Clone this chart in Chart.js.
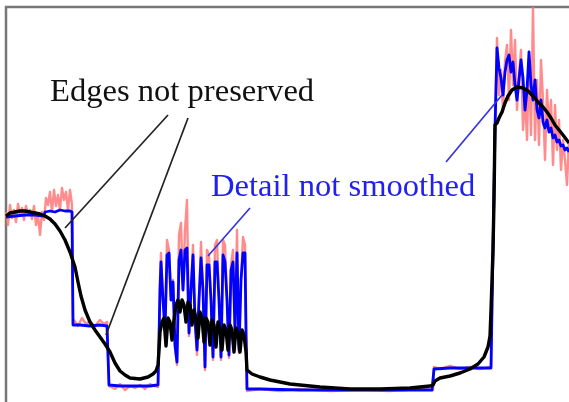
<!DOCTYPE html>
<html lang="en">
<head>
<meta charset="UTF-8" />
<title>Edges vs detail</title>
<script src="https://cdn.jsdelivr.net/npm/chart.js"></script>
<style>
  body { margin: 0; background: #fff; }
  canvas { display: block; }
</style>
</head>
<body>
<canvas id="myChart" width="569" height="402"></canvas>
<script>
// signal traces, [x, y] in picture units (y grows downward)
const noisySignal = [
  [6,212],[8,225],[10,205],[12,218],[14,210],[16,222],[18,204],[20,215],[22,208],[24,220],[26,206],[28,214],
  [30,210],[32,219],[34,206],[36,225],[38,215],[40,235],[42,212],[44,220],[46,198],[48,205],[50,192],[52,212],
  [54,190],[56,206],[58,195],[60,210],[62,188],[64,200],[66,192],[68,210],[70,190],[72,205],
  [73,322],[74,320],[78,326],[82,318],[86,324],[90,321],[95,326],[100,320],[104,324],[107,322],
  [109,386],[115,389],[120,384],[125,390],[130,386],[135,388],[140,385],[145,389],[150,384],[157,387],
  [158,387],[160,280],[161,253],[163,300],[165,335],[167,240],[169,250],[171,300],[173,280],[175,348],[177,365],
  [179,235],[181,223],[183,290],[185,230],[187,200],[189,336],[191,290],[193,245],[195,322],[197,355],[199,300],
  [201,242],[203,290],[205,370],[207,250],[209,255],[211,300],[213,360],[215,245],[217,240],[219,300],[221,360],
  [223,240],[225,245],[227,300],[229,358],[231,265],[233,250],[235,333],[237,230],[239,353],[241,280],[243,237],
  [245,245],[246,330],[247,391],
  [260,389],[280,391],[300,389],[330,391],[360,390],[390,391],[420,389],[433,390],
  [434,367],[440,369],[450,366],[460,369],[470,367],[480,369],[491,367],[493,250],
  [495,120],[497,38],[499,95],[501,70],[503,112],[505,62],[507,45],[509,100],[511,30],[513,85],[515,40],
  [517,110],[519,75],[521,50],[523,130],[525,95],[527,140],[529,60],[531,135],[533,8],[535,140],[537,80],
  [539,145],[541,60],[543,100],[545,160],[547,90],[549,130],[551,100],[553,165],[555,105],[557,150],[559,120],
  [561,170],[563,140],[565,160],[567,185],[569,140]
];

const detailSignal = [
  [6,217],[15,216],[25,215],[35,215],[44,216],[45,212],[50,211],[55,212],[60,210],[65,211],[70,211],[72,212],
  [73,325],[80,325],[90,326],[100,325],[107,326],
  [109,385],[120,386],[130,386],[140,386],[150,386],[157,385],
  [158,385],[160,290],[161,262],[163,300],[165,330],[167,255],[169,253],[171,300],[173,282],[175,345],[177,362],
  [179,260],[181,250],[183,290],[185,250],[187,248],[189,333],[191,290],[193,255],[195,320],[197,350],[199,300],
  [201,258],[203,290],[205,367],[207,265],[209,265],[211,300],[213,357],[215,262],[217,262],[219,300],[221,357],
  [223,255],[225,262],[227,300],[229,355],[231,270],[233,262],[235,330],[237,253],[239,350],[241,280],[243,253],
  [245,253],[246,330],[247,389],
  [260,389],[300,390],[350,390],[400,390],[432,390],
  [434,369],[450,368],[470,368],[491,368],[493,250],[495,130],
  [497,48],[499,68],[501,78],[503,95],[505,72],[507,60],[509,55],[511,72],[513,62],[515,85],[517,100],[519,80],
  [521,60],[523,78],[525,110],[527,90],[529,52],[531,85],[533,100],[535,80],[537,110],[539,118],[541,100],
  [543,122],[545,128],[547,120],[549,132],[551,128],[553,138],[555,135],[557,142],[559,140],[561,146],[563,145],
  [565,150],[567,148],[569,152]
];

const smoothSignal = [
  [6,216],[10,213],[15,212],[20,211],[25,211],[30,212],[35,213],[40,214],[45,216],[50,219],[55,224],[60,231],
  [65,240],[70,252],[75,267],[78,282],[81,296],[85,310],[90,322],[95,330],[100,337],[105,344],[110,352],
  [115,363],[120,371],[125,375],[130,378],[140,379],[148,377],[153,374],[156,371],[158,365],
  [159,350],[160,332],[162,322],[164,318],[166,346],[168,318],[170,322],[172,340],[174,320],[176,305],[178,300],
  [180,312],[182,300],[184,305],[186,322],[188,302],[190,305],[192,325],[194,310],[196,318],[198,338],[200,312],
  [202,318],[204,342],[206,318],[208,322],[210,345],[212,320],[214,325],[216,347],[218,322],[220,328],[222,350],
  [224,325],[226,330],[228,350],[230,325],[232,330],[234,352],[236,328],[238,332],[240,352],[242,330],[244,335],
  [246,352],[247,370],
  [252,374],[260,377],[270,380],[290,384],[320,387],[350,389],[380,389],[410,388],[430,386],[433,385],
  [435,381],[440,378],[450,376],[460,373],[470,369],[478,364],[484,357],[488,347],[490,336],[491,310],
  [493,250],[494,200],[495,125],
  [497,123],[499,118],[502,112],[505,103],[508,96],[512,90],[517,87],[523,88],[528,91],[533,96],[538,102],
  [543,107],[547,112],[551,118],[555,125],[559,130],[563,135],[566,139],[569,143]
];

// callout leaders
const edgeLeaders = [
  [[168,115],[65,228]],
  [[188,118],[106,335]]
];
const detailLeaders = [
  [[250,208],[208,256]],
  [[446,162],[502,95]]
];

const labels = [
  { text: "Edges not preserved", at: [50,101], color: "#111111" },
  { text: "Detail not smoothed", at: [211,196], color: "#2020f0" }
];

const frameCorner = [6,7];

const toPts = (arr) => arr.map((p) => ({ x: p[0], y: p[1] }));

function traceSet(arr, color, width) {
  return {
    data: toPts(arr),
    showLine: true,
    borderColor: color,
    borderWidth: width,
    borderJoinStyle: "round",
    pointRadius: 0,
    tension: 0,
    fill: false,
  };
}

const datasets = [];
edgeLeaders.forEach((l) => datasets.push(traceSet(l, "#222222", 1.7)));
detailLeaders.forEach((l) => datasets.push(traceSet(l, "#3434e0", 1.7)));
datasets.push(traceSet(smoothSignal, "#000000", 3.4));
datasets.push(traceSet(detailSignal, "#0000ff", 2.8));
datasets.push(traceSet(noisySignal, "rgba(255,120,120,0.85)", 2.4));

const decor = {
  id: "decor",
  beforeDatasetsDraw(chart) {
    const { ctx, scales } = chart;
    const x0 = scales.x.getPixelForValue(frameCorner[0]);
    const y0 = scales.y.getPixelForValue(frameCorner[1]);
    ctx.save();
    ctx.strokeStyle = "#777777";
    ctx.lineWidth = 2.5;
    ctx.beginPath();
    ctx.moveTo(x0, chart.height);
    ctx.lineTo(x0, y0);
    ctx.lineTo(chart.width, y0);
    ctx.stroke();
    ctx.restore();
  },
  afterDatasetsDraw(chart) {
    const { ctx, scales } = chart;
    ctx.save();
    ctx.font = '32.6px "Liberation Serif", "DejaVu Serif", serif';
    ctx.textBaseline = "alphabetic";
    labels.forEach((l) => {
      ctx.fillStyle = l.color;
      ctx.fillText(l.text, scales.x.getPixelForValue(l.at[0]), scales.y.getPixelForValue(l.at[1]));
    });
    ctx.restore();
  },
};

new Chart(document.getElementById("myChart").getContext("2d"), {
  type: "scatter",
  data: { datasets },
  options: {
    responsive: false,
    animation: false,
    layout: { padding: 0 },
    plugins: { legend: { display: false }, tooltip: { enabled: false } },
    scales: {
      x: { type: "linear", min: 0, max: 569, display: false },
      y: { type: "linear", min: 0, max: 402, reverse: true, display: false },
    },
  },
  plugins: [decor],
});
</script>
</body>
</html>
